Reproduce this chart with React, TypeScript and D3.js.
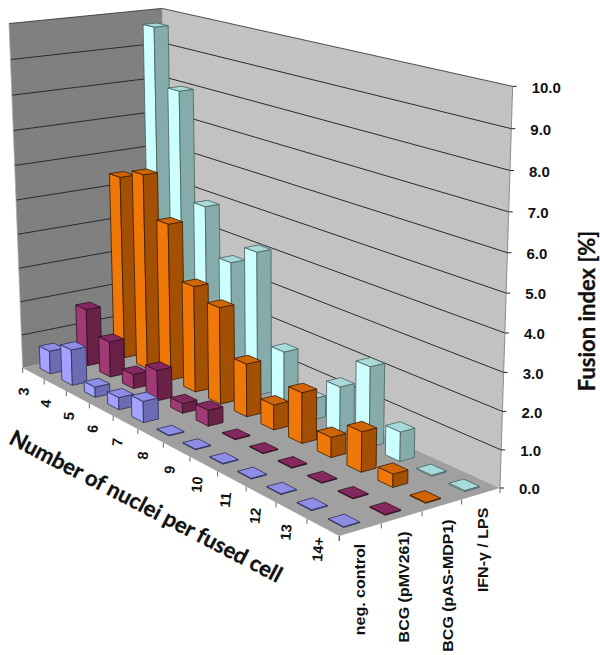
import React from "react";
import * as d3 from "d3";

const categories = ["3","4","5","6","7","8","9","10","11","12","13","14+"];
const seriesNames = ["neg. control","BCG (pMV261)","BCG (pAS-MDP1)","IFN-γ / LPS"];
const negControl = [0.68,1.05,0.3,0.35,0.6,0.02,0.02,0.02,0.02,0.02,0.02,0.02];
const bcgMV = [1.7,1.05,0.42,0.88,0.28,0.45,0.02,0.02,0.02,0.02,0.02,0.02];
const bcgAS = [5.44,5.75,4.58,3.07,2.77,1.5,0.7,1.4,0.55,1.08,0.35,0.02];
const ifn = [9.65,8.0,4.9,3.55,4.13,1.6,0.6,1.3,2.2,0.8,0.03,0.03];
const seriesValues = [negControl,bcgMV,bcgAS,ifn];
const yTicks = [0,1,2,3,4,5,6,7,8,9,10];

const palettes = [
  {left:"#A3A3FF",right:"#6C6CB4",top:"#8E8EE6",stroke:"#2d2d55"},
  {left:"#A03A74",right:"#6A2147",top:"#84295F",stroke:"#30101f"},
  {left:"#F07808",right:"#A34F04",top:"#CF6506",stroke:"#3a1c00"},
  {left:"#CCFFFF",right:"#86ABAB",top:"#A8DADA",stroke:"#4a6060"},
];

// Perspective calibration of the 3D box (homogeneous floor corners + vertical vector)
const H = {
  ox:22.7, oy:368, ow:1,
  xx:248.7, xy:60.8, xw:-0.2,
  zx:153.6, zy:-14, zw:0.05,
  hx:-14.14, hy:-345.6, hw:-0.0486,
};
const proj = (x:number,z:number,h:number):[number,number] => {
  const w = H.ow + H.xw*x + H.zw*z + H.hw*h;
  return [(H.ox + H.xx*x + H.zx*z + H.hx*h)/w, (H.oy + H.xy*x + H.zy*z + H.hy*h)/w];
};

const xBand = d3.scaleBand<string>().domain(categories).range([0,1]).paddingInner(0.53).paddingOuter(0.265);
const zBand = d3.scaleBand<string>().domain(seriesNames).range([0,1]).paddingInner(0.62).paddingOuter(0.31);
const hScale = d3.scaleLinear().domain([0,10]).range([0,1]);
const poly = d3.line<[number,number]>().curve(d3.curveLinearClosed);
const seg = d3.line<[number,number]>();
const xStep = 1/categories.length;
const zStep = 1/seriesNames.length;
const seriesLabelNudge = [-2,1,5,1];

const sans = "'Liberation Sans', Arial, sans-serif";
const title = "Lato, 'Open Sans', sans-serif";

export default function App(){
  const bars:React.ReactNode[] = [];
  categories.forEach((c,i)=>{
    for(let s=seriesNames.length-1;s>=0;s--){
      const x0=xBand(c)!, x1=x0+xBand.bandwidth();
      const z0=zBand(seriesNames[s])!, z1=z0+zBand.bandwidth();
      const h=hScale(seriesValues[s][i]);
      const p=palettes[s];
      bars.push(<g key={c+s} stroke={p.stroke} strokeWidth={0.8} strokeLinejoin="round">
        <path d={poly([proj(x0,z0,0),proj(x1,z0,0),proj(x1,z0,h),proj(x0,z0,h)])!} fill={p.left}/>
        <path d={poly([proj(x1,z0,0),proj(x1,z1,0),proj(x1,z1,h),proj(x1,z0,h)])!} fill={p.right}/>
        <path d={poly([proj(x0,z0,h),proj(x1,z0,h),proj(x1,z1,h),proj(x0,z1,h)])!} fill={p.top}/>
      </g>);
    }
  });
  return (
    <svg width={600} height={655} style={{position:"absolute",left:0,top:0,display:"block",background:"#fff"}}>
      <path d={poly([proj(0,0,0),proj(0,1,0),proj(0,1,1),proj(0,0,1)])!} fill="#808080"/>
      <path d={poly([proj(0,1,0),proj(1,1,0),proj(1,1,1),proj(0,1,1)])!} fill="#C2C2C2"/>
      <path d={poly([proj(0,0,0),proj(1,0,0),proj(1,1,0),proj(0,1,0)])!} fill="#A0A0A0"/>
      {yTicks.map(t=>{
        const h=hScale(t);
        return <g key={t} fill="none" stroke="#2b2b2b" strokeWidth={1}>
          {t>0 && <path d={seg([proj(0,0,h),proj(0,1,h),proj(1,1,h)])!} strokeWidth={t===10?0.8:1}/>}
        </g>;
      })}
      <path d={seg([proj(0,1,0),proj(0,1,1)])!} stroke="#999" strokeWidth={0.7} fill="none"/>
      <path d={seg([proj(1,1,0),proj(1,1,1)])!} stroke="#777" strokeWidth={0.8} fill="none"/>
      <path d={seg([proj(0,0,0),proj(0,0,1)])!} stroke="#aaa" strokeWidth={0.7} fill="none"/>
      {bars}
      {/* value axis ticks + labels */}
      {yTicks.map(t=>{
        const [px,py]=proj(1,1,hScale(t));
        return <g key={t}>
          <path d={seg([[px,py],[px+4,py]])!} stroke="#222" strokeWidth={1}/>
          <text x={px+19} y={py+1} dy="0.36em" fontFamily={sans} fontWeight={700} fontSize={15} fill="#111">{t.toFixed(1)}</text>
        </g>;
      })}
      {/* category ticks + labels */}
      {d3.range(categories.length+1).map(i=>{
        const [px,py]=proj(i*xStep,0,0);
        return <path key={i} d={seg([[px,py],[px,py+5]])!} stroke="#444" strokeWidth={0.8}/>;
      })}
      {categories.map((c,i)=>{
        const [px,py]=proj((i+0.5)*xStep,0,0);
        const t=i/(categories.length-1);
        return <text key={c} transform={`translate(${px-10+5*t},${py+18+4*t}) rotate(-85)`} textAnchor="middle" dy="0.36em" fontFamily={sans} fontWeight={700} fontSize={14.5} fill="#111">{c}</text>;
      })}
      {/* series ticks + labels */}
      {d3.range(seriesNames.length+1).map(i=>{
        const [px,py]=proj(1,i*zStep,0);
        return <path key={i} d={seg([[px,py],[px,py+5]])!} stroke="#444" strokeWidth={0.8}/>;
      })}
      {seriesNames.map((n,i)=>{
        const [px,py]=proj(1,(i+0.5)*zStep,0);
        return <text key={n} transform={`translate(${px+1+seriesLabelNudge[i]},${py+14}) rotate(-90) scale(1,0.88)`} textAnchor="end" dy="0.36em" fontFamily={sans} fontWeight={700} fontSize={16} fill="#111">{n}</text>;
      })}
      <text transform="translate(587,311) rotate(-90)" textAnchor="middle" dy="0.36em" fontFamily={title} fontWeight={700} fontSize={22} stroke="#111" strokeWidth={0.3} fill="#111">Fusion index [%]</text>
      <text transform="translate(146,506) rotate(27.5)" textAnchor="middle" dy="0.36em" fontFamily={title} fontWeight={700} fontSize={22} stroke="#111" strokeWidth={0.3} fill="#111">Number of nuclei per fused cell</text>
    </svg>
  );
}
